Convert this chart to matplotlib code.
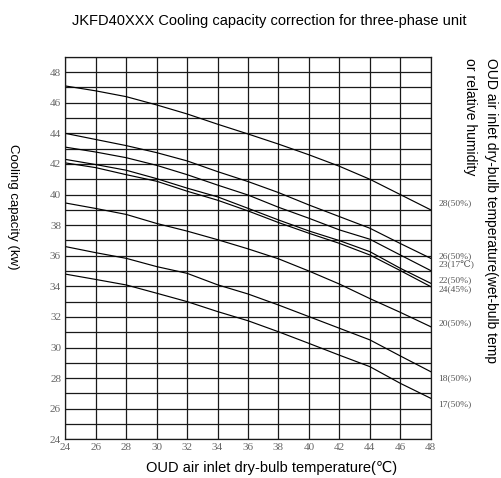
import numpy as np
import matplotlib
matplotlib.use('Agg')
import matplotlib.pyplot as plt

# dry-bulb temperature of outdoor air (x axis)
temp = [24, 26, 28, 30, 32, 34, 36, 38, 40, 42, 44, 46, 48]

# cooling capacity (kw) per indoor condition
cap_28_50 = [47.1, 46.78, 46.4, 45.86, 45.27, 44.6, 43.96, 43.3, 42.6, 41.85, 41.0, 40.0, 39.0]
cap_26_50 = [44.0, 43.6, 43.2, 42.74, 42.2, 41.5, 40.85, 40.13, 39.32, 38.56, 37.8, 36.8, 35.83]
cap_23_17 = [43.1, 42.78, 42.41, 41.91, 41.3, 40.62, 39.97, 39.17, 38.45, 37.69, 37.08, 36.05, 35.03]
cap_22_50 = [42.3, 41.96, 41.59, 41.04, 40.42, 39.85, 39.1, 38.34, 37.62, 36.99, 36.27, 35.18, 34.2]
cap_24_45 = [42.07, 41.76, 41.3, 40.87, 40.22, 39.63, 38.93, 38.17, 37.47, 36.81, 36.05, 35.03, 33.98]
cap_20_50 = [39.45, 39.09, 38.7, 38.11, 37.61, 37.05, 36.45, 35.8, 35.0, 34.15, 33.2, 32.3, 31.36]
cap_18_50 = [36.6, 36.2, 35.83, 35.29, 34.85, 34.1, 33.5, 32.78, 32.02, 31.26, 30.5, 29.45, 28.42]
cap_17_50 = [34.8, 34.45, 34.09, 33.55, 33.0, 32.35, 31.75, 31.03, 30.27, 29.5, 28.75, 27.66, 26.68]

curves = [cap_28_50, cap_26_50, cap_23_17, cap_22_50, cap_24_45, cap_20_50, cap_18_50, cap_17_50]

# labels on the right and the height they sit at
end_labels = ['28(50%)', '26(50%)', '23(17℃)', '22(50%)', '24(45%)', '20(50%)', '18(50%)', '17(50%)']
label_y = [39.45, 35.95, 35.42, 34.42, 33.83, 31.6, 28.0, 26.3]

x_ticks = np.arange(24, 49, 2)
y_ticks = np.arange(24, 49, 2)

sans = ['Liberation Sans', 'DejaVu Sans']
serif = ['Liberation Serif', 'DejaVu Serif']

fig = plt.figure(figsize=(5.02, 4.78), dpi=100)
ax = fig.add_axes([0.130, 0.081, 0.728, 0.800])

for c in curves:
    ax.plot(temp, c, color='black', lw=0.85)

ax.set_xlim(24, 48)
ax.set_ylim(24, 49)
ax.set_xticks(x_ticks)
ax.set_yticks(y_ticks)
ax.set_yticks(np.arange(24, 50, 1), minor=True)
ax.grid(True, which='both', color='#1a1a1a', lw=0.9)
ax.tick_params(which='both', length=0, colors='#666666', labelsize=8, pad=3)
for lab in ax.get_xticklabels() + ax.get_yticklabels():
    lab.set_family(serif)
for s in ax.spines.values():
    s.set_color('#1a1a1a')
    s.set_linewidth(0.9)

for txt, yy in zip(end_labels, label_y):
    ax.text(48.5, yy, txt, fontsize=6.8, color='#555555', family=serif,
            va='center', ha='left', clip_on=False)

fig.text(0.536, 0.957, 'JKFD40XXX Cooling capacity correction for three-phase unit',
         fontsize=10.5, family=sans, ha='center', va='center')
fig.text(0.540, 0.021, 'OUD air inlet dry-bulb temperature(℃)',
         fontsize=10.5, family=sans, ha='center', va='center')
fig.text(0.026, 0.567, 'Cooling capacity (kw)', rotation=270,
         fontsize=9.5, family=sans, ha='center', va='center')
fig.text(0.979, 0.879, 'OUD air inlet dry-bulb temperature(wet-bulb temp', rotation=270,
         fontsize=10, family=sans, ha='center', va='top')
fig.text(0.936, 0.879, 'or relative humidity', rotation=270,
         fontsize=10, family=sans, ha='center', va='top')

fig.savefig('out.png', dpi=100)
